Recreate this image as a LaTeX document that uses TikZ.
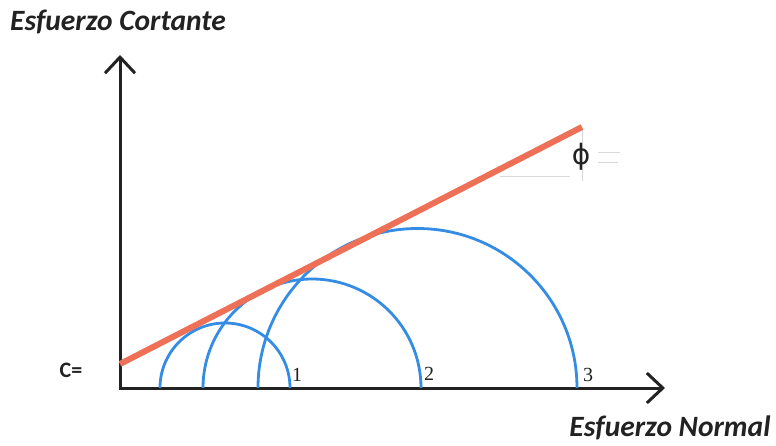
\documentclass[tikz,border=0pt]{standalone}
\usepackage{fontspec}
\setmainfont{Carlito}
\newfontfamily\numfont{Liberation Serif}
\newfontfamily\grkfont{DejaVu Sans}
\usetikzlibrary{arrows.meta}
\definecolor{mohrblue}{RGB}{52,140,228}
\definecolor{envred}{RGB}{238,112,86}
\definecolor{axisgray}{RGB}{34,34,34}
\begin{document}
\begin{tikzpicture}[x=1pt,y=-1pt,
  axis/.style={draw=axisgray, line width=3pt,
    {Straight Barb[length=16pt,width=30pt,line width=3pt]}-{Straight Barb[length=16pt,width=30pt,line width=3pt]}},
  circ/.style={draw=mohrblue, line width=2.8pt},
  env/.style={draw=envred, line width=6pt},
  title/.style={font=\fontsize{29.5}{32}\selectfont\bfseries\itshape, text=axisgray, inner sep=0pt},
  num/.style={font=\numfont\fontsize{20}{22}\selectfont, text=axisgray, inner sep=0pt},
  faint/.style={draw=gray!30, line width=0.8pt}]
\path[use as bounding box] (0,0) rectangle (776,446);
% faint construction marks near the angle label
\coordinate (fa1) at (500,176); \coordinate (fa2) at (570,176);
\coordinate (fv1) at (582,130); \coordinate (fv2) at (582,181);
\coordinate (fd1) at (598,152); \coordinate (fd2) at (620,152);
\coordinate (fe1) at (598,162); \coordinate (fe2) at (618,162);
\draw[faint] (fa1) -- (fa2);
\draw[faint] (fv1) -- (fv2);
\draw[faint] (fd1) -- (fd2);
\draw[faint] (fe1) -- (fe2);
% axes
\coordinate (O) at (120,388);
\coordinate (Ytip) at (120,55);
\coordinate (Xtip) at (665,388);
\draw[axis] (Ytip) -- (O) -- (Xtip);
% Mohr circles
\coordinate (c1) at (160,388);
\coordinate (c2) at (203,388);
\coordinate (c3) at (258,388);
\draw[circ] (c1) arc[start angle=180, end angle=360, radius=65];
\draw[circ] (c2) arc[start angle=180, end angle=360, radius=109];
\draw[circ] (c3) arc[start angle=180, end angle=360, radius=159.5];
% envelope
\coordinate (Cint) at (120,364);
\coordinate (Eend) at (582,127);
\draw[env] (Cint) -- (Eend);
% labels
\node[num] (n1) at (297,375) {1};
\node[num] (n2) at (429,374) {2};
\node[num] (n3) at (588,375) {3};
\node[font=\bfseries\fontsize{22}{24}\selectfont, text=axisgray, inner sep=0pt] (clab) at (71,370) {C=};
\node[font=\grkfont\fontsize{28}{30}\selectfont, text=axisgray, inner sep=0pt] (phi) at (581,157) {ϕ};
\node[title] (ylab) at (118,22) {Esfuerzo Cortante};
\node[title] (xlab) at (670,428) {Esfuerzo Normal};
\end{tikzpicture}
\end{document}
